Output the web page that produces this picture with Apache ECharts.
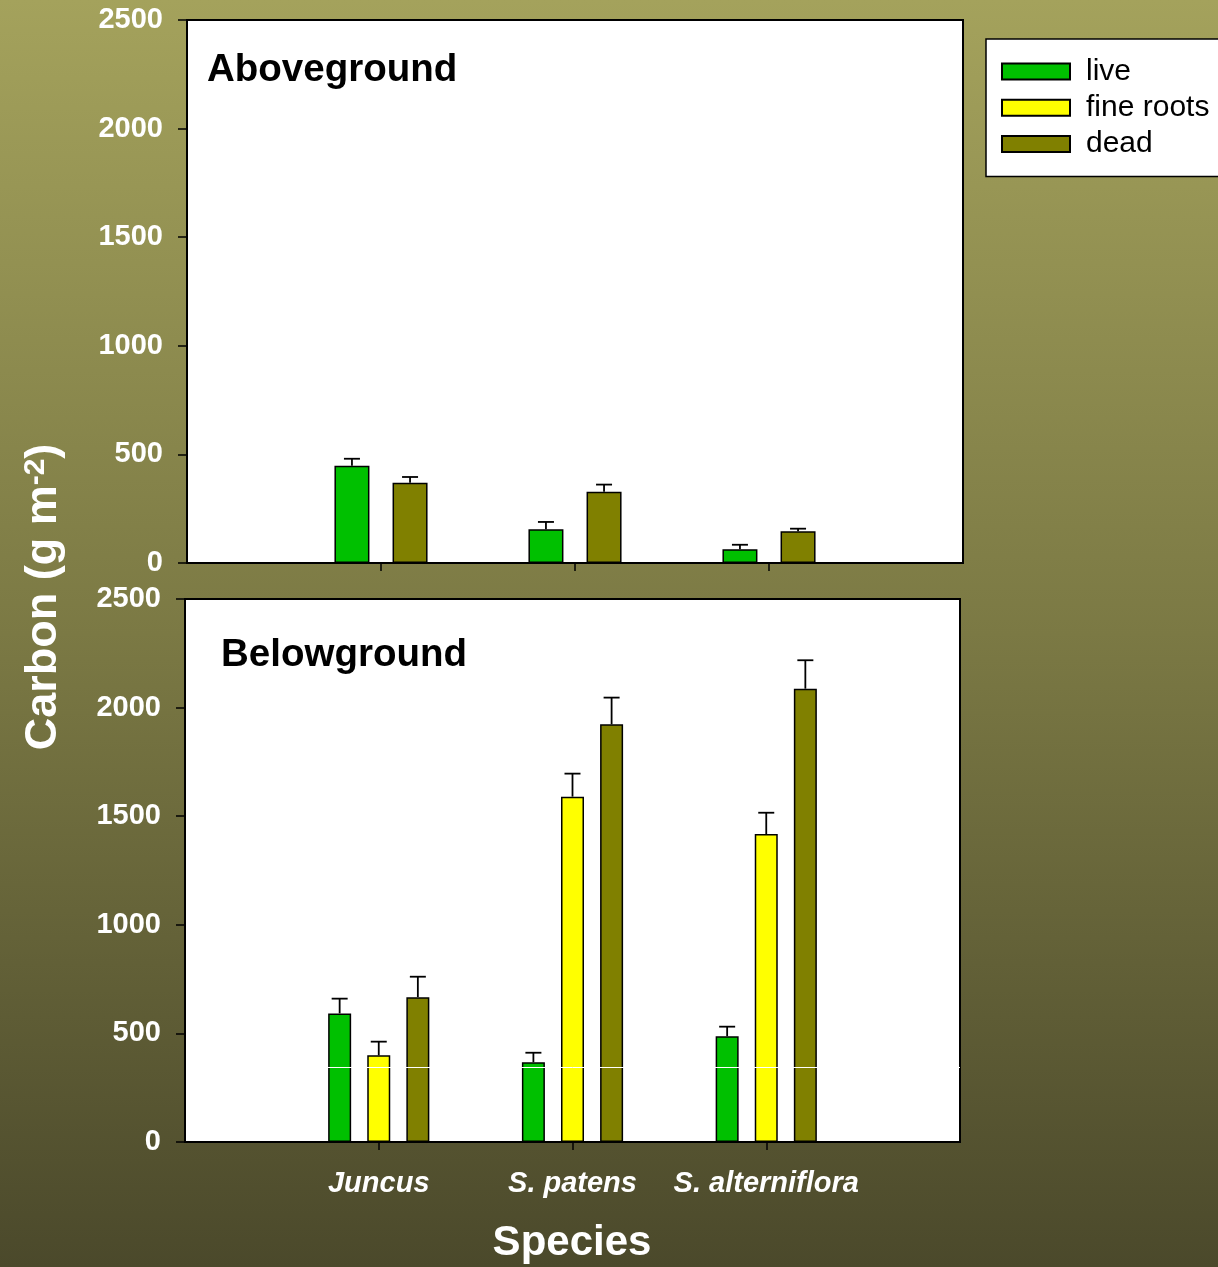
<!DOCTYPE html>
<html>
<head>
<meta charset="utf-8">
<script src="https://cdn.jsdelivr.net/npm/echarts@6/dist/echarts.min.js"></script>
<style>
html,body{margin:0;padding:0;}
#chart{width:1218px;height:1267px;}
</style>
</head>
<body>
<div id="chart"></div>
<script>
// ---- data ----
const categories = ['Juncus', 'S. patens', 'S. alterniflora'];
const seriesNames = ['live', 'fine roots', 'dead'];

const aboveLive = [448, 155, 63];
const aboveLiveErr = [32, 34, 21];
const aboveDead = [370, 328, 146];
const aboveDeadErr = [26, 33, 12];

const belowLive = [592, 367, 487];
const belowLiveErr = [68, 44, 44];
const belowFine = [399, 1590, 1418];
const belowFineErr = [63, 106, 98];
const belowDead = [667, 1923, 2087];
const belowDeadErr = [94, 123, 131];

const belowRefLine = 345;
const yMin = 0, yMax = 2500, yStep = 500;

// ---- styling ----
const FONT = 'Liberation Sans, Arial, Helvetica, sans-serif';
const colors = { 'live': '#00c000', 'fine roots': '#ffff00', 'dead': '#808000' };

const axisCats = [''].concat(categories, ['']);
const pad = arr => [null].concat(arr, [null]);
const showCat = (idx) => idx >= 1 && idx <= categories.length;

const topBarW = 35, topGapPct = 66;
const botBarW = 23, botGapPct = 70;
const topStep = topBarW * (1 + topGapPct / 100);
const botStep = botBarW * (1 + botGapPct / 100);

function errSeries(name, vals, errs, gi, offset) {
  return {
    name: name,
    type: 'custom',
    xAxisIndex: gi, yAxisIndex: gi,
    z: 5,
    silent: true,
    data: vals.map((v, i) => [i + 1, v, errs[i]]),
    encode: { x: 0, y: 1 },
    renderItem: function (params, api) {
      const c = api.value(0), v = api.value(1), e = api.value(2);
      const base = api.coord([c, v]);
      const top = api.coord([c, v + e]);
      const x = base[0] + offset;
      const st = { stroke: '#000', lineWidth: 1.8 };
      return {
        type: 'group',
        children: [
          { type: 'line', shape: { x1: x, y1: base[1], x2: x, y2: top[1] }, style: st },
          { type: 'line', shape: { x1: x - 8, y1: top[1], x2: x + 8, y2: top[1] }, style: st }
        ]
      };
    }
  };
}

function barSeries(name, vals, gi, w, gap, extra) {
  return Object.assign({
    name: name,
    type: 'bar',
    xAxisIndex: gi, yAxisIndex: gi,
    data: pad(vals),
    barWidth: w,
    barGap: gap + '%',
    itemStyle: { color: colors[name], borderColor: '#000', borderWidth: 1.5 }
  }, extra || {});
}

function xAxisCfg(gi, showLabels) {
  return {
    gridIndex: gi,
    type: 'category',
    data: axisCats,
    boundaryGap: false,
    z: 6,
    axisLine: { show: true, lineStyle: { color: '#000', width: 2 } },
    axisTick: { show: true, interval: (i) => showCat(i), length: 8, lineStyle: { color: '#000', width: 1.5 } },
    axisLabel: {
      show: showLabels,
      interval: (i) => showCat(i),
      color: '#fff', fontStyle: 'italic', fontWeight: 'bold',
      fontSize: 29, fontFamily: FONT, margin: 27
    },
    splitLine: { show: false }
  };
}

function yAxisCfg(gi) {
  return {
    gridIndex: gi,
    type: 'value',
    min: yMin, max: yMax, interval: yStep,
    z: 6,
    axisLine: { show: true, lineStyle: { color: '#000', width: 2 } },
    axisTick: { show: true, length: 9, lineStyle: { color: '#000', width: 1.5 } },
    axisLabel: {
      color: '#fff', fontWeight: 'bold', fontSize: 29, fontFamily: FONT, margin: 24,
      formatter: (v) => String(v)
    },
    splitLine: { show: false }
  };
}

const chart = echarts.init(document.getElementById('chart'), null, { renderer: 'canvas' });

const option = {
  animation: false,
  backgroundColor: {
    type: 'linear', x: 0, y: 0, x2: 0, y2: 1,
    colorStops: [
      { offset: 0, color: '#a4a25c' },
      { offset: 0.5, color: '#7b7944' },
      { offset: 1, color: '#4b492b' }
    ]
  },
  grid: [
    { left: 187, top: 20, width: 776, height: 543, show: true, backgroundColor: '#fff', borderColor: '#000', borderWidth: 2 },
    { left: 185, top: 599, width: 775, height: 543, show: true, backgroundColor: '#fff', borderColor: '#000', borderWidth: 2 }
  ],
  xAxis: [xAxisCfg(0, false), xAxisCfg(1, true)],
  yAxis: [yAxisCfg(0), yAxisCfg(1)],
  legend: {
    data: seriesNames,
    orient: 'vertical',
    left: 986, top: 39,
    padding: [16, 24, 16, 15],
    itemWidth: 68, itemHeight: 16, itemGap: 3.3,
    backgroundColor: '#fff',
    borderColor: '#000', borderWidth: 1.5,
    selectedMode: false,
    icon: 'rect',
    textStyle: { fontSize: 30, color: '#000', fontFamily: FONT, lineHeight: 30, padding: [3, 0, 0, 11] }
  },
  graphic: [
    { type: 'text', x: 207, y: 70, style: { text: 'Aboveground', font: 'bold 38.5px ' + FONT, fill: '#000', textVerticalAlign: 'middle' }, z: 10 },
    { type: 'text', x: 221, y: 655, style: { text: 'Belowground', font: 'bold 38.5px ' + FONT, fill: '#000', textVerticalAlign: 'middle' }, z: 10 },
    { type: 'text', x: 572, y: 1243, style: { text: 'Species', font: 'bold 42px ' + FONT, fill: '#fff', textAlign: 'center', textVerticalAlign: 'middle' }, z: 10 },
    {
      type: 'text', x: 44, y: 597, rotation: Math.PI / 2,
      style: {
        text: 'Carbon (g m{sup|-2})',
        font: 'bold 45px ' + FONT, fill: '#fff',
        textAlign: 'center', textVerticalAlign: 'middle',
        rich: { sup: { fontSize: 30, fontWeight: 'bold', fontFamily: FONT, fill: '#fff', verticalAlign: 'top', padding: [0, 0, 16, 0] } }
      },
      z: 10
    }
  ],
  series: [
    barSeries('live', aboveLive, 0, topBarW, topGapPct),
    barSeries('dead', aboveDead, 0, topBarW, topGapPct),
    errSeries('err-above-live', aboveLive, aboveLiveErr, 0, -topStep / 2),
    errSeries('err-above-dead', aboveDead, aboveDeadErr, 0, topStep / 2),

    barSeries('live', belowLive, 1, botBarW, botGapPct),
    barSeries('fine roots', belowFine, 1, botBarW, botGapPct),
    barSeries('dead', belowDead, 1, botBarW, botGapPct, {
      markLine: {
        silent: true, symbol: 'none', label: { show: false }, z: 4,
        lineStyle: { color: '#fff', width: 1, type: 'solid' },
        data: [{ yAxis: belowRefLine }]
      }
    }),
    errSeries('err-below-live', belowLive, belowLiveErr, 1, -botStep),
    errSeries('err-below-fine', belowFine, belowFineErr, 1, 0),
    errSeries('err-below-dead', belowDead, belowDeadErr, 1, botStep)
  ]
};

chart.setOption(option);
</script>
</body>
</html>
